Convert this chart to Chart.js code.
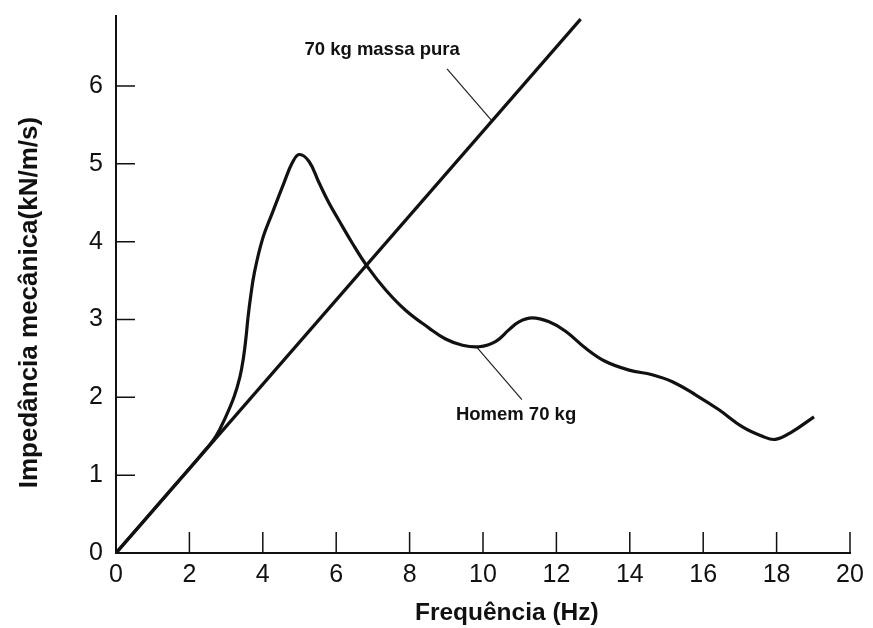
<!DOCTYPE html>
<html>
<head>
<meta charset="utf-8">
<script src="https://cdn.jsdelivr.net/npm/chart.js@4"></script>
<style>
  html, body { margin: 0; padding: 0; background: #fff; }
  #wrap { width: 873px; height: 628px; }
</style>
</head>
<body>
<div id="wrap"><canvas id="impChart" width="873" height="628"></canvas></div>
<script>
// dados
const xTicks = [0, 2, 4, 6, 8, 10, 12, 14, 16, 18, 20];
const yTicks = [0, 1, 2, 3, 4, 5, 6];

const massaX = [0, 12.66];
const massaY = [0, 6.86];

const homemX = [0, 1.4, 2.3, 2.72, 2.99, 3.22, 3.38, 3.47, 3.54, 3.6, 3.67, 3.77, 3.99, 4.26, 4.58, 4.8, 4.99,
  5.26, 5.53, 5.8, 6.08, 6.44, 6.85, 7.35, 7.89, 8.53, 8.98, 9.44, 9.89, 10.35, 10.71, 10.98, 11.34,
  11.8, 12.25, 12.8, 13.34, 13.98, 14.61, 15.16, 15.8, 16.43, 17.07, 17.61, 17.97, 18.43, 19.02];
const homemY = [0, 0.76, 1.25, 1.5, 1.75, 2.01, 2.27, 2.5, 2.76, 3.04, 3.3, 3.6, 4.03, 4.37, 4.76, 5.01, 5.12,
  5.03, 4.76, 4.5, 4.27, 3.98, 3.68, 3.38, 3.12, 2.89, 2.75, 2.67, 2.65, 2.72, 2.87, 2.97, 3.02,
  2.97, 2.85, 2.63, 2.46, 2.35, 2.29, 2.2, 2.03, 1.84, 1.62, 1.5, 1.46, 1.56, 1.75];

// rótulos e linhas de chamada
const labelTexts = ["70 kg massa pura", "Homem 70 kg"];
const labelX = [7.25, 10.9];
const labelY = [6.47, 1.78];
const leaderMassaX = [9.02, 10.25];
const leaderMassaY = [6.22, 5.55];
const leaderHomemX = [9.84, 11.06];
const leaderHomemY = [2.64, 1.97];

function pts(xs, ys) {
  return xs.map(function (x, i) { return { x: x, y: ys[i] }; });
}

// marcas dos eixos voltadas para dentro + textos
const innerTicks = {
  id: "innerTicks",
  afterDraw: function (chart) {
    const ctx = chart.ctx;
    const xs = chart.scales.x, ys = chart.scales.y;
    ctx.save();
    ctx.strokeStyle = "#111";
    ctx.lineWidth = 1.5;
    ctx.beginPath();
    xTicks.forEach(function (v) {
      if (v === 0) return;
      const px = xs.getPixelForValue(v);
      ctx.moveTo(px, ys.bottom);
      ctx.lineTo(px, ys.bottom - 21);
    });
    yTicks.forEach(function (v) {
      if (v === 0) return;
      const py = ys.getPixelForValue(v);
      ctx.moveTo(xs.left, py);
      ctx.lineTo(xs.left + 19, py);
    });
    ctx.stroke();

    ctx.fillStyle = "#111";
    ctx.font = "bold 18.5px 'Liberation Sans', Arial, sans-serif";
    ctx.textAlign = "center";
    ctx.textBaseline = "middle";
    labelTexts.forEach(function (t, i) {
      ctx.fillText(t, xs.getPixelForValue(labelX[i]), ys.getPixelForValue(labelY[i]));
    });
    ctx.restore();
  }
};

const data = {
  datasets: [
    {
      label: "70 kg massa pura",
      data: pts(massaX, massaY),
      borderColor: "#111",
      borderWidth: 3.2,
      pointRadius: 0,
      tension: 0
    },
    {
      label: "Homem 70 kg",
      data: pts(homemX, homemY),
      borderColor: "#111",
      borderWidth: 3.2,
      pointRadius: 0,
      tension: 0.4
    },
    {
      data: pts(leaderMassaX, leaderMassaY),
      borderColor: "#222",
      borderWidth: 1.2,
      pointRadius: 0
    },
    {
      data: pts(leaderHomemX, leaderHomemY),
      borderColor: "#222",
      borderWidth: 1.2,
      pointRadius: 0
    }
  ]
};

const tickFont = { family: "'Liberation Sans', Arial, sans-serif", size: 25 };

const config = {
  type: "line",
  data: data,
  options: {
    responsive: false,
    animation: false,
    layout: { padding: { top: 16, right: 23, left: 0, bottom: 0 } },
    plugins: { legend: { display: false }, tooltip: { enabled: false } },
    scales: {
      x: {
        type: "linear",
        min: 0,
        max: 20,
        grid: { display: false, drawTicks: false },
        border: { display: true, color: "#111", width: 2 },
        afterBuildTicks: function (s) { s.ticks = xTicks.map(function (v) { return { value: v }; }); },
        ticks: { color: "#111", font: tickFont, padding: 7, maxRotation: 0, autoSkip: false },
        title: {
          display: true,
          text: "       Frequência (Hz)",
          color: "#111",
          font: { family: "'Liberation Sans', Arial, sans-serif", size: 24.5, weight: "bold" },
          padding: { top: 0, bottom: 0 }
        },
        afterFit: function (s) { s.height = 75; }
      },
      y: {
        type: "linear",
        min: 0,
        max: 6.9,
        grid: { display: false, drawTicks: false },
        border: { display: true, color: "#111", width: 2 },
        afterBuildTicks: function (s) { s.ticks = yTicks.map(function (v) { return { value: v }; }); },
        ticks: { color: "#111", font: tickFont, padding: 13 },
        title: {
          display: true,
          text: "Impedância mecânica(kN/m/s)     ",
          color: "#111",
          font: { family: "'Liberation Sans', Arial, sans-serif", size: 26, weight: "bold" },
          padding: { top: 14, bottom: 0 }
        },
        afterFit: function (s) { s.width = 116; s.paddingTop = 0; s.paddingBottom = 0; }
      }
    }
  },
  plugins: [innerTicks]
};

const impChart = new Chart(document.getElementById("impChart"), config);
</script>
</body>
</html>
